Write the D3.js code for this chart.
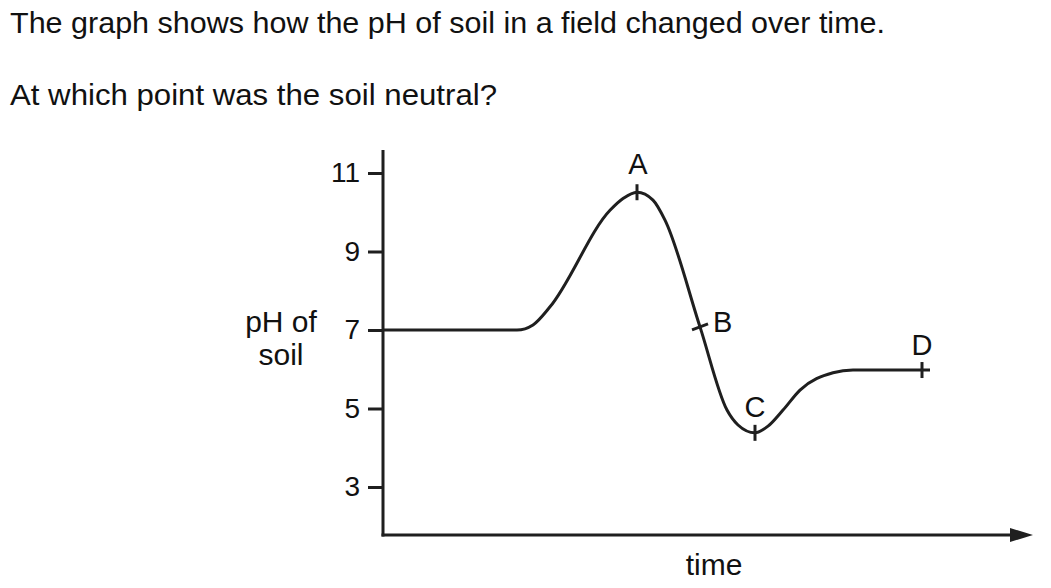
<!DOCTYPE html>
<html>
<head>
<meta charset="utf-8">
<script src="https://cdn.jsdelivr.net/npm/d3@7"></script>
<style>
  html, body { margin: 0; padding: 0; background: #fff; }
  svg { display: block; }
  text { font-family: "Liberation Sans", Arial, Helvetica, sans-serif; fill: #111; }
</style>
</head>
<body>
<svg id="chart" width="1051" height="588"></svg>
<script>
// ---- data ----
const titleLines = [
  "The graph shows how the pH of soil in a field changed over time.",
  "At which point was the soil neutral?"
];
const yTicks = [3, 5, 7, 9, 11];
const yLabelLines = ["pH of", "soil"];
const xLabel = "time";
// curve: time (arbitrary units) and pH
const curveTime = [0, 13.4, 15.0, 16.7, 22.7, 24.0, 25.4, 27.0, 28.2, 31.7, 34.4, 35.5, 37.2, 38.5, 40.0, 41.7, 45.0, 47.0, 54.7];
const curvePH   = [7, 7, 7.13, 7.59, 10.05, 10.35, 10.51, 10.31, 9.8, 7.08, 4.96, 4.58, 4.38, 4.55, 4.96, 5.47, 5.91, 5.98, 5.98];
const pointNames = ["A", "B", "C", "D"];
const pointTime  = [25.4, 31.7, 37.2, 53.9];
const pointPH    = [10.51, 7.08, 4.38, 5.98];

// ---- layout ----
const svg = d3.select("#chart");
const ink = "#1f1f1f";
const x = d3.scaleLinear().domain([0, 65]).range([383, 1033]);
const y = d3.scaleLinear().domain([3, 11]).range([487, 173]);
const yBottom = 535, yTop = 150;

// title
const titleWidths = [875, 487];
svg.selectAll("text.title").data(titleLines).join("text")
  .attr("class", "title")
  .attr("x", 10)
  .attr("y", (d, i) => i === 0 ? 33 : 105)
  .attr("font-size", 29)
  .attr("textLength", (d, i) => titleWidths[i])
  .attr("lengthAdjust", "spacingAndGlyphs")
  .text(d => d);

// y axis
const yAxis = d3.axisLeft(y).tickValues(yTicks).tickSize(15).tickPadding(8).tickFormat(d3.format("d"));
const gy = svg.append("g").attr("transform", "translate(383,0)").call(yAxis);
gy.select(".domain").remove();
gy.selectAll(".tick line").attr("stroke", ink).attr("stroke-width", 3);
gy.selectAll(".tick text").attr("font-size", 28).attr("fill", "#111")
  .attr("font-family", "Liberation Sans, Arial, sans-serif");
svg.append("line").attr("x1", 383).attr("x2", 383).attr("y1", yTop).attr("y2", yBottom + 1.5)
  .attr("stroke", ink).attr("stroke-width", 3);

// x axis with arrow
svg.append("line").attr("x1", 381.5).attr("x2", 1012).attr("y1", yBottom).attr("y2", yBottom)
  .attr("stroke", ink).attr("stroke-width", 3);
svg.append("path")
  .attr("d", `M1010,${yBottom - 7} L1033,${yBottom} L1010,${yBottom + 7} Z`)
  .attr("fill", ink);

// axis labels
svg.selectAll("text.ylab").data(yLabelLines).join("text")
  .attr("class", "ylab")
  .attr("x", 281).attr("y", (d, i) => 332 + i * 33)
  .attr("text-anchor", "middle").attr("font-size", 30)
  .text(d => d);
svg.append("text").attr("x", 714).attr("y", 575).attr("text-anchor", "middle")
  .attr("font-size", 30).text(xLabel);

// curve
const pts = curveTime.map((t, i) => [t, curvePH[i]]);
const line = d3.line().x(d => x(d[0])).y(d => y(d[1])).curve(d3.curveMonotoneX);
svg.append("path").attr("d", line(pts)).attr("fill", "none")
  .attr("stroke", ink).attr("stroke-width", 3).attr("stroke-linejoin", "round");

// point marks and labels
const labelDx = [1, 13, 0, 0];
const labelDy = [-18, 5, -16, -15];
const labelAnchor = ["middle", "start", "middle", "middle"];
pointNames.forEach((name, i) => {
  const px = x(pointTime[i]), py = y(pointPH[i]);
  const g = svg.append("g").attr("transform", `translate(${px},${py})`);
  if (name === "B") {
    g.append("line").attr("x1", -8).attr("y1", 3).attr("x2", 8).attr("y2", -3)
      .attr("stroke", ink).attr("stroke-width", 3);
  } else {
    g.append("line").attr("x1", 0).attr("y1", -8).attr("x2", 0).attr("y2", 8)
      .attr("stroke", ink).attr("stroke-width", 3);
  }
  svg.append("text")
    .attr("x", px + labelDx[i]).attr("y", py + labelDy[i])
    .attr("text-anchor", labelAnchor[i]).attr("font-size", 29)
    .text(name);
});
</script>
</body>
</html>
